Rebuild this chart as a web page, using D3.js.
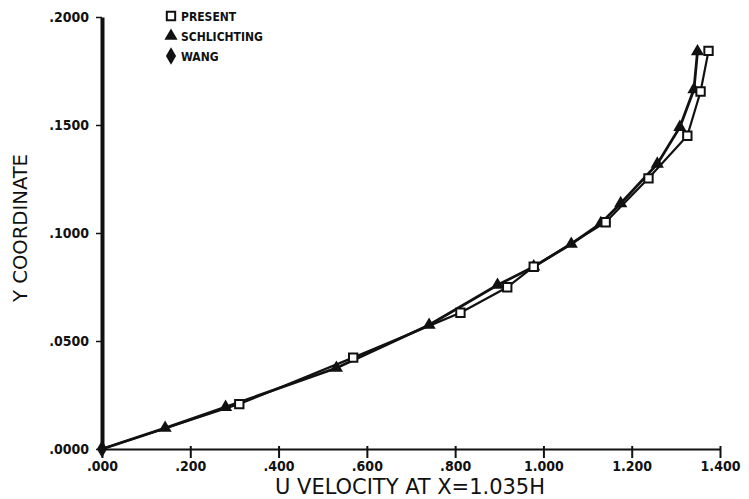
<!DOCTYPE html>
<html>
<head>
<meta charset="utf-8">
<script src="https://cdn.jsdelivr.net/npm/d3@7"></script>
<style>
  html, body { margin: 0; padding: 0; background: #fff; }
  svg { display: block; }
  text { font-family: "DejaVu Sans Condensed", "Liberation Sans Narrow", sans-serif; font-weight: bold; fill: #111; }
</style>
</head>
<body>
<svg id="chart" width="749" height="499"></svg>
<script>
// ---- data ----
const xTickValues = [0, 0.2, 0.4, 0.6, 0.8, 1.0, 1.2, 1.4];
const xTickLabels = [".000", ".200", ".400", ".600", ".800", "1.000", "1.200", "1.400"];
const yTickValues = [0, 0.05, 0.10, 0.15, 0.20];
const yTickLabels = [".0000", ".0500", ".1000", ".1500", ".2000"];

const presentU = [0, 0.311, 0.569, 0.812, 0.918, 0.978, 1.141, 1.238, 1.326, 1.356, 1.374];
const presentY = [0, 0.0208, 0.0423, 0.0631, 0.0749, 0.0844, 0.1050, 0.1253, 0.1450, 0.1655, 0.1843];

const schlichtingU = [0, 0.143, 0.280, 0.531, 0.741, 0.896, 0.978, 1.063, 1.130, 1.175, 1.258, 1.309, 1.341, 1.349];
const schlichtingY = [0, 0.0097, 0.0194, 0.0375, 0.0574, 0.0759, 0.0844, 0.0949, 0.1045, 0.1137, 0.1320, 0.1490, 0.1665, 0.1840];

const wangU = [0];
const wangY = [0];

const legendLabels = ["PRESENT", "SCHLICHTING", "WANG"];
const xTitle = "U VELOCITY AT X=1.035H";
const yTitle = "Y COORDINATE";

// ---- chart ----
const svg = d3.select("#chart");
const x = d3.scaleLinear().domain([0, 1.4]).range([102, 720]);
const y = d3.scaleLinear().domain([0, 0.2]).range([449, 17]);

const toPts = (us, ys) => us.map((u, i) => ({u, v: ys[i]}));
const present = toPts(presentU, presentY);
const schl = toPts(schlichtingU, schlichtingY);
const wang = toPts(wangU, wangY);

// x axis
const xAxis = d3.axisBottom(x).tickValues(xTickValues)
  .tickFormat((d, i) => xTickLabels[i]).tickSize(9).tickSizeOuter(0).tickPadding(3);
const gx = svg.append("g").attr("transform", `translate(0,${y(0)})`).call(xAxis);
gx.select(".domain").attr("stroke", "#111").attr("stroke-width", 2.2);
gx.selectAll(".tick line").attr("stroke", "#111").attr("stroke-width", 2).attr("y1", -3);
gx.selectAll(".tick text").attr("font-size", 14).attr("fill", "#111")
  .style("font-family", "'DejaVu Sans Condensed', sans-serif").style("font-weight", "bold");

// y axis
const yAxis = d3.axisLeft(y).tickValues(yTickValues)
  .tickFormat((d, i) => yTickLabels[i]).tickSize(6).tickSizeOuter(0).tickPadding(7);
const gy = svg.append("g").attr("transform", `translate(${x(0)},0)`).call(yAxis);
gy.select(".domain").attr("stroke", "#111").attr("stroke-width", 4);
gy.selectAll(".tick line").attr("stroke", "#111").attr("stroke-width", 1.5);
gy.selectAll(".tick text").attr("font-size", 14).attr("fill", "#111")
  .style("font-family", "'DejaVu Sans Condensed', sans-serif").style("font-weight", "bold");

// titles
svg.append("text").attr("x", 410).attr("y", 494).attr("text-anchor", "middle")
  .attr("font-size", 22).attr("textLength", 270).attr("lengthAdjust", "spacingAndGlyphs")
  .style("font-weight", "normal").text(xTitle);
svg.append("text").attr("transform", "translate(27,228) rotate(-90)").attr("text-anchor", "middle")
  .attr("font-size", 19).attr("textLength", 148).attr("lengthAdjust", "spacingAndGlyphs")
  .style("font-weight", "normal").text(yTitle);

// lines
const line = d3.line().x(d => x(d.u)).y(d => y(d.v)).curve(d3.curveLinear);
svg.append("path").datum(present).attr("d", line).attr("fill", "none")
  .attr("stroke", "#111").attr("stroke-width", 2.2);
svg.append("path").datum(schl).attr("d", line).attr("fill", "none")
  .attr("stroke", "#111").attr("stroke-width", 2.8);

// markers
const sq = d3.symbol().type(d3.symbolSquare).size(70);
const tri = d3.symbol().type(d3.symbolTriangle).size(75);
const dia = d3.symbol().type(d3.symbolDiamond).size(90);

svg.append("g").selectAll("path").data(schl.slice(1)).join("path")
  .attr("transform", d => `translate(${x(d.u)},${y(d.v)})`).attr("d", tri)
  .attr("fill", "#111");
svg.append("g").selectAll("path").data(present.slice(1)).join("path")
  .attr("transform", d => `translate(${x(d.u)},${y(d.v)})`).attr("d", sq)
  .attr("fill", "#fff").attr("stroke", "#111").attr("stroke-width", 2);
svg.append("g").selectAll("path").data(wang).join("path")
  .attr("transform", d => `translate(${x(d.u)},${y(d.v)})`).attr("d", dia)
  .attr("fill", "#111");

// legend
const legendSyms = [sq, tri, dia];
const lg = svg.append("g");
legendLabels.forEach((lab, i) => {
  const cy = 16 + i * 20;
  lg.append("path").attr("transform", `translate(171,${cy})`).attr("d", legendSyms[i])
    .attr("fill", i === 0 ? "#fff" : "#111").attr("stroke", "#111").attr("stroke-width", i === 0 ? 2 : 0);
  lg.append("text").attr("x", 181).attr("y", cy + 5).attr("font-size", 12).text(lab);
});
</script>
</body>
</html>
